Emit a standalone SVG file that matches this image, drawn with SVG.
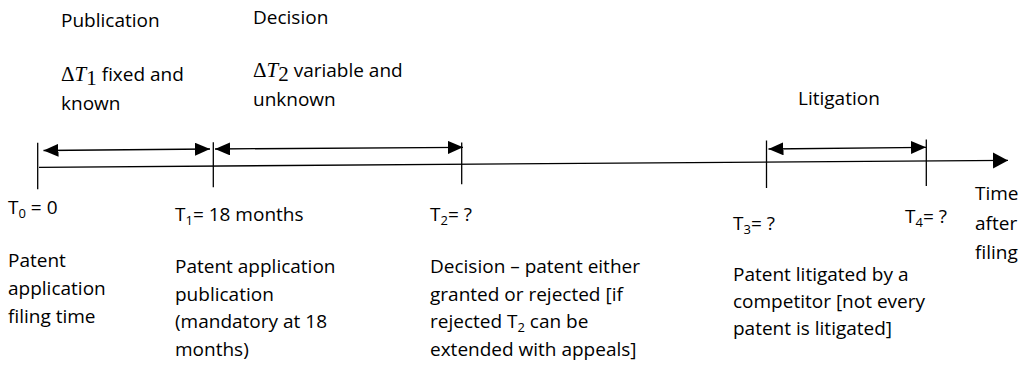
<svg xmlns="http://www.w3.org/2000/svg" width="1025" height="377" viewBox="0 0 1025 377">
<style>
  text { font-family: "Open Sans", "Liberation Sans", sans-serif; font-size: 19px; fill: #000; }
  .sub { font-size: 13px; }
  .math { font-family: "Liberation Serif", "DejaVu Serif", serif; font-size: 21px; }
  .mi { font-style: italic; }
  .ln { stroke: #000; stroke-width: 1.3; fill: none; }
  .dbl { stroke: #000; stroke-width: 1.3; fill: none; marker-start: url(#ah); marker-end: url(#ah); }
</style>
<defs>
  <marker id="ah" markerUnits="userSpaceOnUse" markerWidth="16" markerHeight="14" refX="15" refY="6.5" orient="auto-start-reverse" viewBox="0 0 16 14">
    <path d="M0,0 L15,6.5 L0,13 z" fill="#000"/>
  </marker>
  <marker id="ah1" markerUnits="userSpaceOnUse" markerWidth="16" markerHeight="17" refX="15" refY="8" orient="auto" viewBox="0 0 16 17">
    <path d="M0,0 L15,8 L0,16 z" fill="#000"/>
  </marker>
</defs>

<g id="connectors">
  <line id="timeline" class="ln" x1="39" y1="167.3" x2="1008" y2="160.4" marker-end="url(#ah1)"/>
  <line id="span-publication" class="dbl" x1="43.5" y1="150.5" x2="210" y2="149"/>
  <line id="span-decision" class="dbl" x1="215" y1="149" x2="463" y2="147.3"/>
  <line id="span-litigation" class="dbl" x1="768.5" y1="149" x2="926" y2="147.3"/>
</g>

<g id="tick-t0"><line class="ln" x1="37.7" y1="142.7" x2="37.7" y2="189.3"/></g>
<g id="tick-t1"><line class="ln" x1="213.3" y1="142.3" x2="213.3" y2="187.3"/></g>
<g id="tick-t2"><line class="ln" x1="461.7" y1="142.5" x2="461.7" y2="184.3"/></g>
<g id="tick-t3"><line class="ln" x1="766.5" y1="140.5" x2="766.5" y2="188"/></g>
<g id="tick-t4"><line class="ln" x1="926.3" y1="139.5" x2="926.3" y2="186"/></g>

<g id="label-publication">
  <text x="61" y="27.3">Publication</text>
  <text x="61" y="81"><tspan class="math">Δ</tspan><tspan class="math mi">T</tspan><tspan class="math" font-size="15" dy="4">1</tspan><tspan dy="-4"> fixed and</tspan></text>
  <text x="61" y="109.5">known</text>
</g>

<g id="label-decision">
  <text x="253" y="23.5">Decision</text>
  <text x="253" y="77.3"><tspan class="math">Δ</tspan><tspan class="math mi">T</tspan><tspan class="math" font-size="15" dy="4">2</tspan><tspan dy="-4"> variable and</tspan></text>
  <text x="253" y="105.5">unknown</text>
</g>

<g id="label-litigation">
  <text x="798" y="105">Litigation</text>
</g>

<g id="node-t0">
  <text x="8" y="214">T<tspan class="sub" dy="4">0</tspan><tspan dy="-4"> = 0</tspan></text>
  <text x="8" y="267">Patent</text>
  <text x="8" y="295">application</text>
  <text x="8" y="323">filing time</text>
</g>

<g id="node-t1">
  <text x="175" y="221">T<tspan class="sub" dy="4">1</tspan><tspan dy="-4">= 18 months</tspan></text>
  <text x="175" y="273">Patent application</text>
  <text x="175" y="301">publication</text>
  <text x="175" y="328">(mandatory at 18</text>
  <text x="175" y="356">months)</text>
</g>

<g id="node-t2">
  <text x="430" y="221">T<tspan class="sub" dy="4">2</tspan><tspan dy="-4">= ?</tspan></text>
  <text x="430" y="273">Decision – patent either</text>
  <text x="430" y="301">granted or rejected [if</text>
  <text x="430" y="328">rejected T<tspan class="sub" dy="4">2</tspan><tspan dy="-4"> can be</tspan></text>
  <text x="430" y="356">extended with appeals]</text>
</g>

<g id="node-t3">
  <text x="733" y="230">T<tspan class="sub" dy="4">3</tspan><tspan dy="-4">= ?</tspan></text>
  <text x="733" y="281">Patent litigated by a</text>
  <text x="733" y="308">competitor [not every</text>
  <text x="733" y="335">patent is litigated]</text>
</g>

<g id="node-t4">
  <text x="905" y="223">T<tspan class="sub" dy="4">4</tspan><tspan dy="-4">= ?</tspan></text>
</g>

<g id="axis-label">
  <text x="975" y="200">Time</text>
  <text x="975" y="230">after</text>
  <text x="975" y="259">filing</text>
</g>
</svg>
